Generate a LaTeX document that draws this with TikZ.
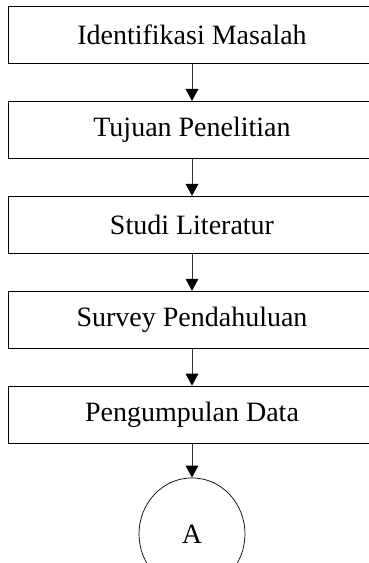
\documentclass[tikz,border=0pt]{standalone}
\usepackage{fontspec}
\setmainfont{Liberation Serif}
\usetikzlibrary{positioning,shapes.geometric,arrows.meta}

\begin{document}
\begin{tikzpicture}[x=1pt,y=1pt,
stepbox/.style={rectangle,draw=black,line width=0.9pt,minimum width=368pt,minimum height=57pt,
  font=\fontsize{28}{32}\selectfont,inner sep=0pt},
connector/.style={ellipse,draw=black,line width=0.7pt,minimum width=106pt,minimum height=112pt,
  font=\fontsize{28}{32}\selectfont},
node distance=37pt]

\tikzset{flowarrow/.style={-{Triangle[width=13pt,length=12pt,fill=black,line width=0pt]},line width=0.9pt,draw=black!80}}

\useasboundingbox (0,0) rectangle (368,-563);

\node[stepbox] (masalah) at (192,-35) {Identifikasi Masalah};
\node[stepbox,below=of masalah] (tujuan) {Tujuan Penelitian};
\node[stepbox,below=of tujuan] (literatur) {Studi Literatur};
\node[stepbox,below=of literatur] (survey) {Survey Pendahuluan};
\node[stepbox,below=of survey] (data) {Pengumpulan Data};
\node[connector,below=34pt of data] (konektor) {A};

\draw[flowarrow] (masalah) -- (tujuan);
\draw[flowarrow] (tujuan) -- (literatur);
\draw[flowarrow] (literatur) -- (survey);
\draw[flowarrow] (survey) -- (data);
\draw[flowarrow] (data) -- (konektor);

\end{tikzpicture}
\end{document}
